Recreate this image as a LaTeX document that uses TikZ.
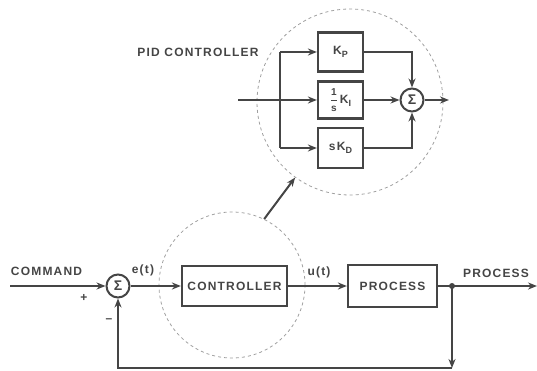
\documentclass[tikz,border=0pt]{standalone}
\usepackage{fontspec}
\setmainfont{Liberation Sans}[LetterSpace=10]
\usetikzlibrary{arrows.meta,calc}
\definecolor{ink}{gray}{0.27}
\newcommand{\lowsub}[1]{\raisebox{-0.45ex}{\fontsize{9}{9}\selectfont #1}}
\newcommand{\fracbox}[2]{$\displaystyle\frac{\mbox{\bfseries\fontsize{10}{10}\selectfont #1}}{\mbox{\bfseries\fontsize{10}{10}\selectfont #2}}$}
\tikzstyle{arrow} = [line width=2pt,draw=ink,-{Stealth[length=9pt,width=7pt]}]
\tikzstyle{wire} = [line width=2pt,draw=ink]
\tikzstyle{blk} = [draw=ink,line width=2.2pt,text=ink,font=\bfseries\fontsize{12}{13}\selectfont,inner sep=0pt]
\tikzstyle{sumnode} = [draw=ink,circle,line width=2pt,minimum size=23pt,inner sep=0pt,text=ink,font=\bfseries\fontsize{14}{15}\selectfont]
\tikzstyle{zone} = [draw=gray!75,dashed,line width=0.8pt,circle,inner sep=0pt]
\tikzstyle{lbl} = [text=ink,font=\bfseries\fontsize{12}{13}\selectfont,inner sep=0.75pt]

\begin{document}
\begin{tikzpicture}[x=1pt,y=-1pt]
\useasboundingbox (0,0) rectangle (537,371);

%Shape: dashed circles
\node[zone,minimum size=146pt] (zlow) at (232,285) {};
\node[zone,minimum size=186pt] (zup) at (350,102) {};

%Blocks of the loop
\node[sumnode] (s1) at (118,286) {Σ};
\node[blk,minimum width=105pt,minimum height=40pt] (ctrl) at (234.5,286) {CONTROLLER};
\node[blk,minimum width=89pt,minimum height=42pt] (proc) at (392.5,286) {PROCESS};
\coordinate (cmd) at (10,286);
\coordinate (jn) at (452,286);
\coordinate (out) at (537,286);
\coordinate (fb) at (452,368);
\coordinate (fbl) at (118,368);

%Blocks of the PID controller
\node[blk,minimum width=45pt,minimum height=39pt] (kp) at (340.5,52) {K\lowsub{P}};
\node[blk,minimum width=45pt,minimum height=37pt] (ki) at (340.5,100) {\fracbox{1}{s}\,K\lowsub{I}};
\node[blk,minimum width=45pt,minimum height=40pt] (kd) at (340.5,148) {sK\lowsub{D}};
\node[sumnode] (s2) at (412,100) {Σ};
\coordinate (pin) at (238,100);
\coordinate (br) at (280,100);
\coordinate (pout) at (449,100);

%Straight Lines of the loop
\draw[arrow] (cmd) -- (s1);
\draw[arrow] (s1) -- (ctrl);
\draw[arrow] (ctrl) -- (proc);
\draw[wire] (proc) -- (jn);
\draw[arrow] (jn) -- (out);
\draw[arrow] (jn) -- (fb);
\draw[arrow] (fb) -- (fbl) -- (s1);
\fill[ink] (jn) circle (3pt);

%Straight Lines of the PID controller
\draw[wire] (pin) -- (br);
\draw[arrow] (br) -- (ki);
\draw[wire] (kp.west -| br) -- (kd.west -| br);
\draw[arrow] (kp.west -| br) -- (kp);
\draw[arrow] (kd.west -| br) -- (kd);
\draw[arrow] (kp) -| (s2);
\draw[arrow] (kd) -| (s2);
\draw[arrow] (ki) -- (s2);
\draw[arrow] (s2) -- (pout);

%Zoom arrow
\draw[arrow] (zlow.64) -- (zup.234);

% Text Node
\node[lbl,anchor=west] (cmdlbl) at (10,271) {COMMAND};
% Text Node
\node[lbl] (plus) at (84,298) {+};
% Text Node
\node[lbl] (minus) at (109,321) {\textendash};
% Text Node
\node[lbl] (elbl) at (143,270) {e(t)};
% Text Node
\node[lbl] (ulbl) at (319,272) {u(t)};
% Text Node
\node[lbl] (outlbl) at (496,273) {PROCESS};
% Text Node
\node[lbl] (pidlbl) at (198,52) {PID CONTROLLER};

\end{tikzpicture}
\end{document}
